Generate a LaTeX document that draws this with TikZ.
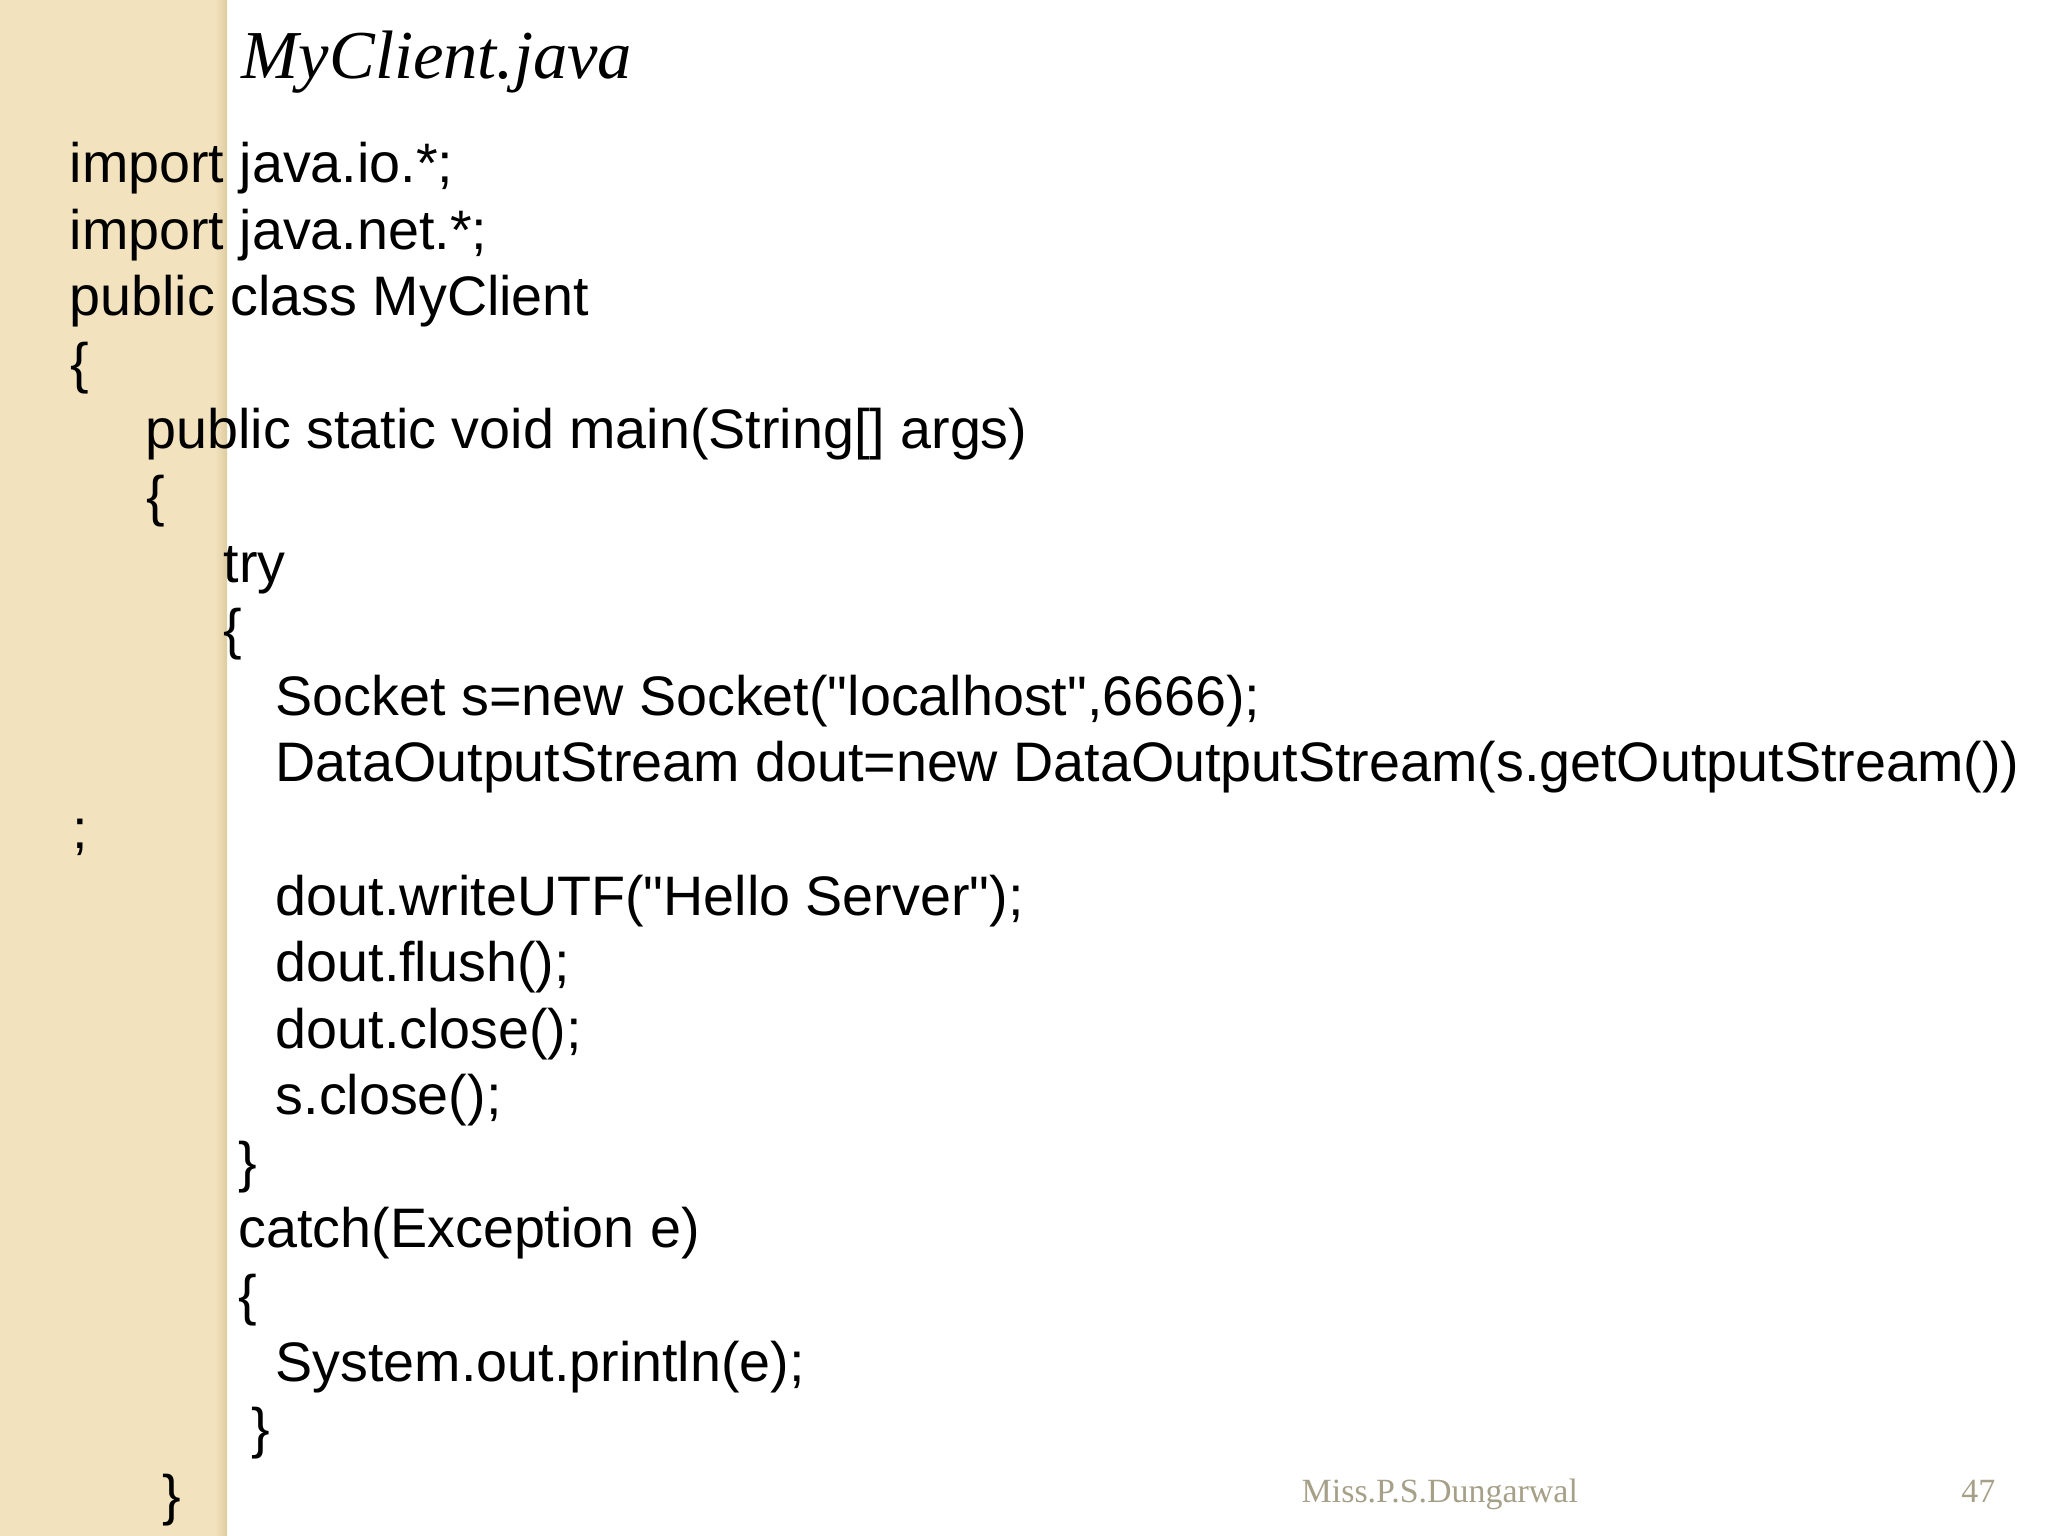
\documentclass[tikz,border=0pt]{standalone}
\usepackage{fontspec}
\setmainfont{Liberation Serif}
\newfontfamily\codefont{Liberation Sans}
\definecolor{stripbg}{RGB}{242,226,190}
\definecolor{stripedge}{RGB}{222,204,160}
\definecolor{footgray}{RGB}{166,160,136}
\tikzset{
	code/.style={anchor=base west, inner sep=0pt, font=\codefont\fontsize{15.83pt}{18pt}\selectfont},
	title/.style={anchor=base west, inner sep=0pt, font=\itshape\fontsize{19.5pt}{23pt}\selectfont},
	foot/.style={anchor=base west, inner sep=0pt, text=footgray, font=\fontsize{9.65pt}{11pt}\selectfont}
}
\begin{document}
\begin{tikzpicture}[x=0.01cm, y=-0.01cm]
		\useasboundingbox (0,0) rectangle (2048,1536);
		\fill[white] (0,0) rectangle (2048,1536);
		% side strip
		\fill[stripbg] (0,0) rectangle (227,1536);
		\shade[left color=stripbg, right color=stripedge] (215,0) rectangle (227,1536);
		\node[title] (ttl) at (241,78) {MyClient.java};
		% code lines
		\node[code] (l1) at (69,182) {import java.io.*;};
		\node[code] (l2) at (69,249) {import java.net.*;};
		\node[code] (l3) at (69,315) {public class MyClient};
		\node[code] (l4) at (70,382) {\{};
		\node[code] (l5) at (145,448) {public static void main(String[] args)};
		\node[code] (l6) at (146,515) {\{};
		\node[code] (l7) at (223,582) {try};
		\node[code] (l8) at (223,648) {\{};
		\node[code] (l9) at (275,715) {Socket s=new Socket("localhost",6666);};
		\node[code] (l10) at (275,781) {DataOutputStream dout=new DataOutputStream(s.getOutputStream())};
		\node[code] (l11) at (72,848) {;};
		\node[code] (l12) at (275,915) {dout.writeUTF("Hello Server");};
		\node[code] (l13) at (275,981) {dout.flush();};
		\node[code] (l14) at (275,1048) {dout.close();};
		\node[code] (l15) at (275,1114) {s.close();};
		\node[code] (l16) at (238,1181) {\}};
		\node[code] (l17) at (238,1247) {catch(Exception e)};
		\node[code] (l18) at (238,1314) {\{};
		\node[code] (l19) at (275,1381) {System.out.println(e);};
		\node[code] (l20) at (251,1447) {\}};
		\node[code] (l21) at (162,1514) {\}};
		% footer
		\node[foot] (auth) at (1301,1502) {Miss.P.S.Dungarwal};
		\node[foot, anchor=base east] (pgno) at (1996,1502) {47};
\end{tikzpicture}
\end{document}
